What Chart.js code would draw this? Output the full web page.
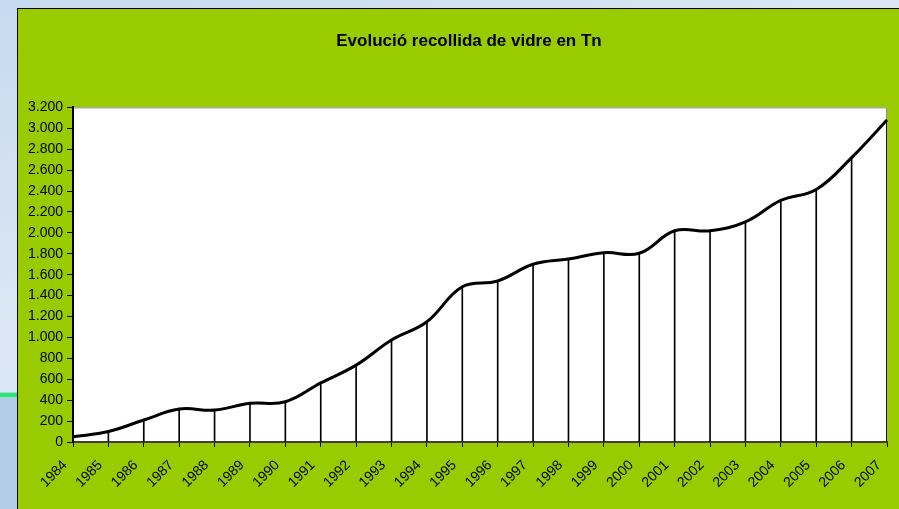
<!DOCTYPE html>
<html>
<head>
<meta charset="utf-8">
<script src="https://cdn.jsdelivr.net/npm/chart.js@4.4.0/dist/chart.umd.min.js"></script>
<style>
  html, body { margin: 0; padding: 0; }
  body {
    width: 899px; height: 509px; overflow: hidden; position: relative;
    background: linear-gradient(160deg, #c6daef 0%, #dbe7f4 40%, #c9dcf0 100%);
    font-family: "Liberation Sans", Arial, sans-serif;
  }
  .franja { position: absolute; left: 0; top: 392px; width: 17px; height: 117px; background: #b3cde9; }
  .verd { position: absolute; left: 0; top: 393px; width: 17px; height: 4px; background: #22ee66; }
  .panell {
    position: absolute; left: 17px; top: 8px; width: 900px; height: 520px;
    background: #99cc00; border-left: 1px solid #000; border-top: 1px solid #000;
  }
  #grafic { position: absolute; left: 0; top: 0; }
</style>
</head>
<body>
<div class="franja"></div>
<div class="verd"></div>
<div class="panell"></div>
<canvas id="grafic" width="940" height="509"></canvas>
<script>
// Dades: tones de vidre recollides per any
const anys = ['1984', '1985', '1986', '1987', '1988', '1989', '1990', '1991', '1992', '1993', '1994', '1995',
  '1996', '1997', '1998', '1999', '2000', '2001', '2002', '2003', '2004', '2005', '2006', '2007'];
const tones = [50, 100, 210, 315, 305, 370, 385, 565, 735, 975, 1150, 1485,
  1540, 1700, 1750, 1810, 1805, 2020, 2020, 2105, 2310, 2415, 2720, 3080];

// Fons blanc i vora grisa de l'àrea del gràfic
const fonsArea = {
  id: 'fonsArea',
  beforeDraw(chart) {
    const { ctx, chartArea: a } = chart;
    ctx.save();
    ctx.fillStyle = '#ffffff';
    ctx.fillRect(a.left, a.top, a.right - a.left, a.bottom - a.top);
    ctx.strokeStyle = '#8c8c8c';
    ctx.lineWidth = 1;
    ctx.strokeRect(a.left + 0.5, a.top + 0.5, a.right - a.left - 1, a.bottom - a.top);
    ctx.restore();
  }
};

const font = { family: '"Liberation Sans", Arial, sans-serif', size: 14 };

new Chart(document.getElementById('grafic'), {
  type: 'line',
  data: {
    labels: anys,
    datasets: [{
      label: 'Tn',
      data: tones,
      borderColor: '#000000',
      borderWidth: 3,
      pointRadius: 0,
      tension: 0.4,
      fill: false,
      order: 0
    }, {
      // línies de projecció fins a l'eix
      type: 'bar',
      label: 'línies',
      data: tones,
      backgroundColor: '#000000',
      borderWidth: 0,
      barThickness: 1,
      order: 1
    }]
  },
  options: {
    responsive: false,
    animation: false,
    layout: { padding: { left: 26, right: 28, top: 0, bottom: 0 } },
    plugins: {
      legend: { display: false },
      tooltip: { enabled: false },
      title: {
        display: true,
        text: 'Evolució recollida de vidre en Tn',
        color: '#000000',
        font: { family: font.family, size: 17, weight: 'bold' },
        padding: { top: 31, bottom: 56 }
      }
    },
    scales: {
      x: {
        offset: false,
        grid: { display: true, drawOnChartArea: false, offset: false, tickLength: 5, color: '#000000' },
        border: { display: true, color: '#404040', width: 2 },
        ticks: {
          autoSkip: false,
          maxRotation: 45,
          minRotation: 45,
          padding: 10,
          labelOffset: -8,
          color: '#000000',
          font: font
        },
        afterFit(scale) { scale.height = 67; }
      },
      y: {
        min: 0,
        max: 3200,
        grid: { display: true, drawOnChartArea: false, tickLength: 6, color: '#000000' },
        border: { display: true, color: '#000000', width: 2 },
        ticks: {
          stepSize: 200,
          padding: 4,
          color: '#000000',
          font: font,
          callback: v => v.toLocaleString('de-DE')
        },
        afterFit(scale) { scale.width = 47; }
      },
      // eix buit a la dreta, només per deixar el títol centrat com a l'original
      y2: {
        position: 'right',
        display: true,
        grid: { display: false },
        border: { display: false },
        ticks: { display: false },
        afterFit(scale) { scale.width = 25; }
      }
    }
  },
  plugins: [fonsArea]
});
</script>
</body>
</html>
